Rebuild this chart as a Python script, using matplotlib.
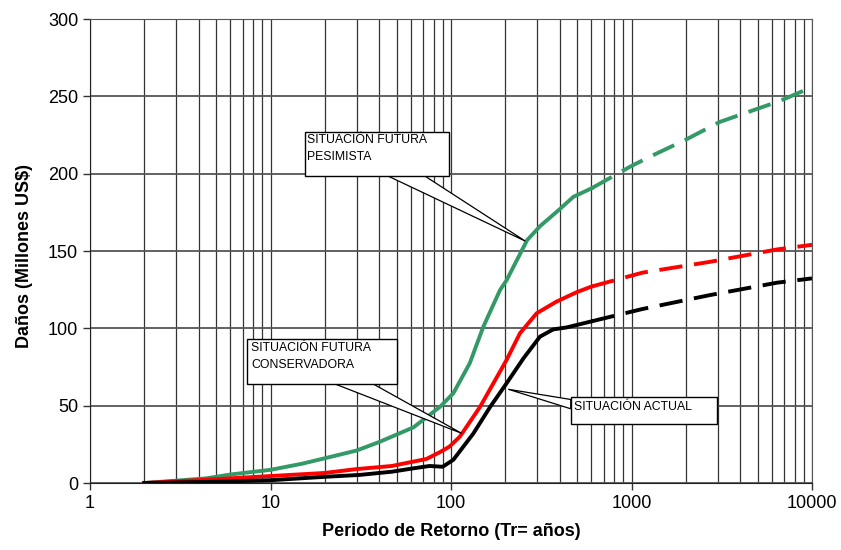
import matplotlib
matplotlib.use("Agg")
import matplotlib.pyplot as plt
from matplotlib.patches import Polygon
from matplotlib.ticker import LogLocator, NullFormatter, FixedLocator

plt.rcParams["font.family"] = ["Liberation Sans", "DejaVu Sans"]

# return period (years) and damages (million US$), solid part up to ~600 yr, dashed beyond
t_green = [2, 3, 4.4, 6, 10, 15, 20, 30, 40, 62, 87, 103, 127, 151, 187, 203, 264, 311, 400, 476, 600]
v_green = [0, 1.5, 3, 5.5, 8.5, 12.5, 16, 21, 26.5, 36, 49.3, 58, 77.4, 101, 124.8, 131, 157, 166, 177, 185, 190.5]
t_green_ext = [600, 1000, 1320, 2000, 3090, 5000, 6630, 10000]
v_green_ext = [190.5, 205, 212, 222, 233.5, 242, 247, 256]

t_red = [2, 5, 10, 20, 30, 47, 57, 73, 87, 98, 112, 145, 203, 241, 298, 383, 500, 600]
v_red = [0, 2.5, 4.5, 6.5, 9, 11, 13, 15.5, 20, 23.5, 30, 49.3, 79.5, 96.8, 109.7, 117.2, 123.5, 127]
t_red_ext = [600, 1150, 2720, 6390, 10000]
v_red_ext = [127, 136, 143, 151, 154]

t_blk = [2, 5, 10, 20, 31, 47, 62, 76, 90, 103, 133, 165, 203, 252, 311, 368, 438, 600]
v_blk = [0, 0.8, 1.8, 4, 5.2, 7.3, 9.5, 11, 10.5, 15, 32, 49.3, 64.4, 80.6, 94.6, 99.3, 100.6, 104.5]
t_blk_ext = [600, 1150, 2720, 6390, 10000]
v_blk_ext = [104.5, 112.5, 121.5, 129.5, 132.3]

fig = plt.figure(figsize=(8.41, 5.5), dpi=100)
ax = fig.add_axes([90/841, 1-483/550, (812-90)/841, (483-19)/550])
ax.set_xscale("log")
ax.set_xlim(1, 10000); ax.set_ylim(0, 300)

# grid
ax.xaxis.set_minor_locator(LogLocator(base=10, subs=range(2, 10)))
ax.xaxis.set_minor_formatter(NullFormatter())
ax.grid(True, which="both", axis="x", color="#333333", lw=0.9)
ax.yaxis.set_major_locator(FixedLocator(range(0, 301, 50)))
ax.grid(True, axis="y", color="#555555", lw=1.3)
ax.set_axisbelow(True)
ax.tick_params(which="major", direction="out", length=5, width=1, labelsize=13, color="#333333")
ax.tick_params(which="minor", length=0)
for s in ["top", "right"]:
    ax.spines[s].set_color("#555555")
for s in ["left", "bottom"]:
    ax.spines[s].set_color("#222222")
ax.set_xticks([1, 10, 100, 1000, 10000])
ax.set_xticklabels(["1", "10", "100", "1000", "10000"])

lw = 2.8
ds = (6, 3)
green = "#339966"
ax.plot(t_green, v_green, color=green, lw=lw)
ax.plot(t_green_ext, v_green_ext, color=green, lw=lw, dashes=ds)
ax.plot(t_red, v_red, color="#ff0000", lw=lw)
ax.plot(t_red_ext, v_red_ext, color="#ff0000", lw=lw, dashes=ds)
ax.plot(t_blk, v_blk, color="black", lw=lw)
ax.plot(t_blk_ext, v_blk_ext, color="black", lw=lw, dashes=ds)

ax.set_xlabel("Periodo de Retorno (Tr= años)", fontsize=13, fontweight="bold", labelpad=8)
ax.set_ylabel("Daños (Millones US$)", fontsize=13, fontweight="bold")
ax.yaxis.set_label_coords(-0.079, 0.49)

def callout(box, wedge, lines, tx, ty):
    # wedge pointer first, then box on top
    ax.add_patch(Polygon(wedge, closed=True, facecolor="white", edgecolor="black", lw=0.9, zorder=5))
    (x0, y0), (x1, y1) = box
    ax.add_patch(Polygon([(x0, y0), (x1, y0), (x1, y1), (x0, y1)], closed=True,
                         facecolor="white", edgecolor="black", lw=1.0, zorder=6))
    ax.text(tx, ty, "\n".join(lines), fontsize=8.8, va="top", ha="left",
            linespacing=1.6, zorder=7)

callout(((15.5, 198.4), (97.9, 227.1)),
        [(44.9, 198.4), (71.8, 198.4), (258, 156.4)],
        ["SITUACIÓN FUTURA", "PESIMISTA"], 16.0, 225.6)
callout(((7.44, 64.0), (50.4, 92.9)),
        [(22.8, 64.0), (37.1, 64.0), (114.6, 32.1)],
        ["SITUACIÓN FUTURA", "CONSERVADORA"], 7.8, 91.4)
callout(((460.6, 38.1), (2965, 55.4)),
        [(460.6, 54.0), (460.6, 48.0), (207.7, 60.6)],
        ["SITUACIÓN ACTUAL"], 478, 52.8)

fig.savefig("out.png", dpi=100)
